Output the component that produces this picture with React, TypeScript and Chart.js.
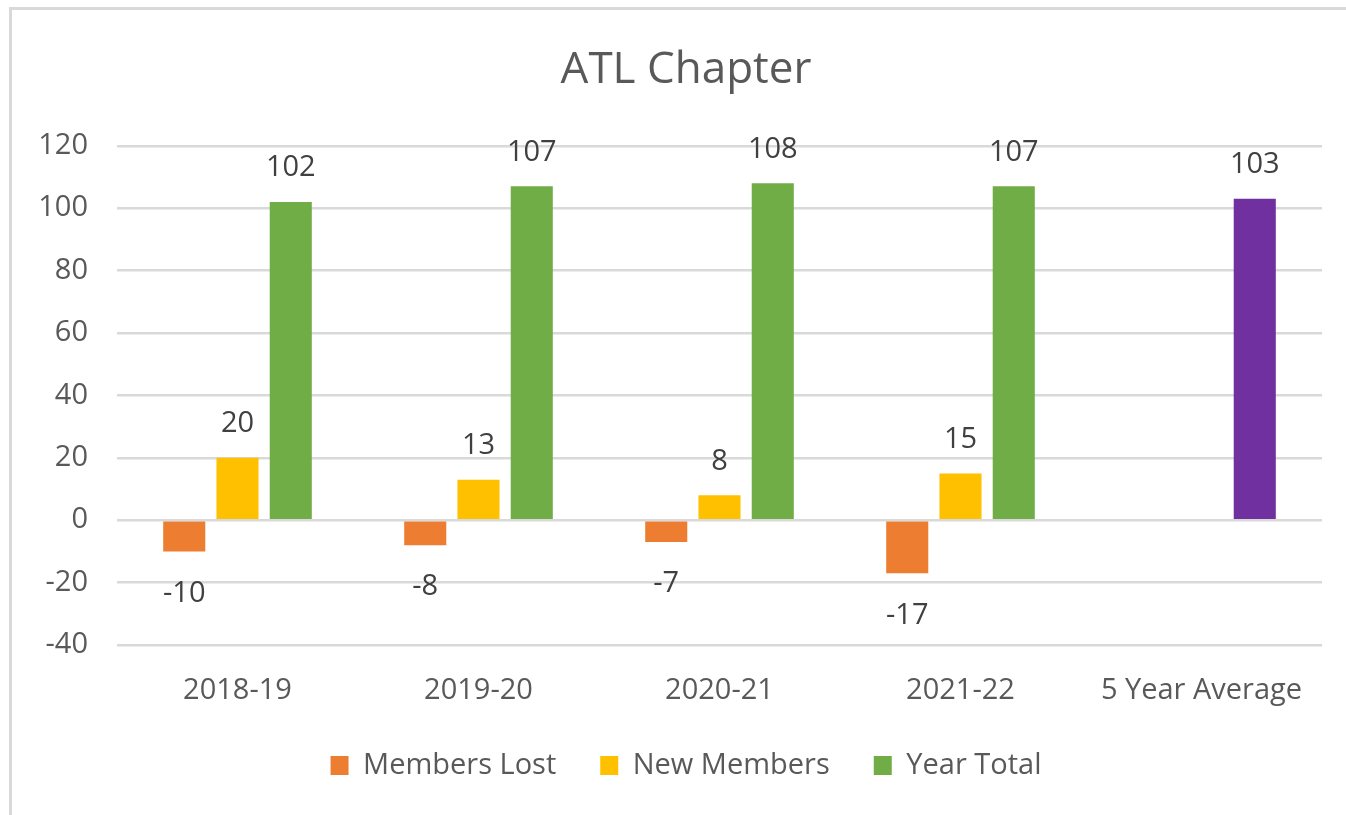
import React, { useEffect, useRef } from "react";
import { Chart, registerables } from "chart.js";

Chart.register(...registerables);

const categories = ["2018-19", "2019-20", "2020-21", "2021-22", "5 Year Average"];
const membersLost = [-10, -8, -7, -17, null];
const newMembers = [20, 13, 8, 15, null];
const yearTotal = [102, 107, 108, 107, 103];

const FONT = "'Open Sans', 'Noto Sans', sans-serif";
const ORANGE = "#ED7D31";
const YELLOW = "#FFC000";
const GREEN = "#70AD47";
const PURPLE = "#7030A0";

const dataLabelPlugin = {
  id: "dataLabels",
  afterDatasetsDraw(chart: any) {
    const ctx = chart.ctx;
    ctx.save();
    ctx.font = `29px ${FONT}`;
    ctx.fillStyle = "#404040";
    ctx.textAlign = "center";
    ctx.textBaseline = "middle";
    chart.data.datasets.forEach((ds: any, di: number) => {
      const meta = chart.getDatasetMeta(di);
      meta.data.forEach((el: any, i: number) => {
        const v = ds.data[i];
        if (v === null || v === undefined) return;
        const y = v >= 0 ? el.y - 34 : el.y + 42;
        ctx.fillText(String(v), el.x, y);
      });
    });
    ctx.restore();
  },
};

export default function App() {
  const ref = useRef<HTMLCanvasElement>(null);
  useEffect(() => {
    const chart = new Chart(ref.current!, {
      type: "bar",
      data: {
        labels: categories,
        datasets: [
          { label: "Members Lost", data: membersLost, backgroundColor: ORANGE },
          { label: "New Members", data: newMembers, backgroundColor: YELLOW },
          {
            label: "Year Total",
            data: yearTotal,
            backgroundColor: (c: any) => (c.dataIndex === 4 ? PURPLE : GREEN),
          },
        ],
      },
      options: {
        responsive: false,
        animation: false,
        devicePixelRatio: 1,
        datasets: { bar: { categoryPercentage: 0.663, barPercentage: 0.79 } },
        layout: { padding: { left: 12, top: 10, right: 18, bottom: 25 } },
        plugins: {
          title: {
            display: true,
            text: "ATL Chapter",
            color: "#595959",
            font: { family: FONT, size: 44, weight: "normal", lineHeight: 1.2 },
            padding: { top: 34, bottom: 49 },
          },
          legend: {
            position: "bottom",
            labels: {
              boxWidth: 18,
              boxHeight: 19,
              padding: 44,
              color: "#595959",
              font: { family: FONT, size: 29 },
            },
          },
          tooltip: { enabled: false },
        },
        scales: {
          x: {
            grid: { display: false },
            border: { display: false },
            afterFit: (s: any) => {
              s.height = 62;
            },
            ticks: {
              color: "#595959",
              padding: 20,
              maxRotation: 0,
              font: { family: FONT, size: 29 },
            },
          },
          y: {
            min: -40,
            max: 120,
            afterFit: (s: any) => {
              s.width = 105;
            },
            grid: { color: "#d9d9d9", lineWidth: 2.5, drawTicks: false },
            border: { display: false },
            ticks: {
              stepSize: 20,
              color: "#595959",
              padding: 29,
              font: { family: FONT, size: 29 },
            },
          },
          yRightSpace: {
            type: "linear",
            position: "right",
            display: true,
            afterFit: (s: any) => {
              s.width = 38;
            },
            grid: { display: false, drawTicks: false },
            border: { display: false },
            ticks: { display: false },
          },
        },
      },
      plugins: [dataLabelPlugin],
    });
    return () => chart.destroy();
  }, []);

  return (
    <div
      style={{
        position: "fixed",
        left: 0,
        top: 0,
        width: 1346,
        height: 815,
        overflow: "hidden",
        background: "#fff",
      }}
    >
      <div
        style={{
          position: "absolute",
          left: 9,
          top: 7,
          width: 1400,
          height: 900,
          borderLeft: "3px solid #d9d9d9",
          borderTop: "3px solid #d9d9d9",
        }}
      />
      <canvas
        ref={ref}
        width={1378}
        height={815}
        style={{ position: "absolute", left: 0, top: 0 }}
      />
    </div>
  );
}
